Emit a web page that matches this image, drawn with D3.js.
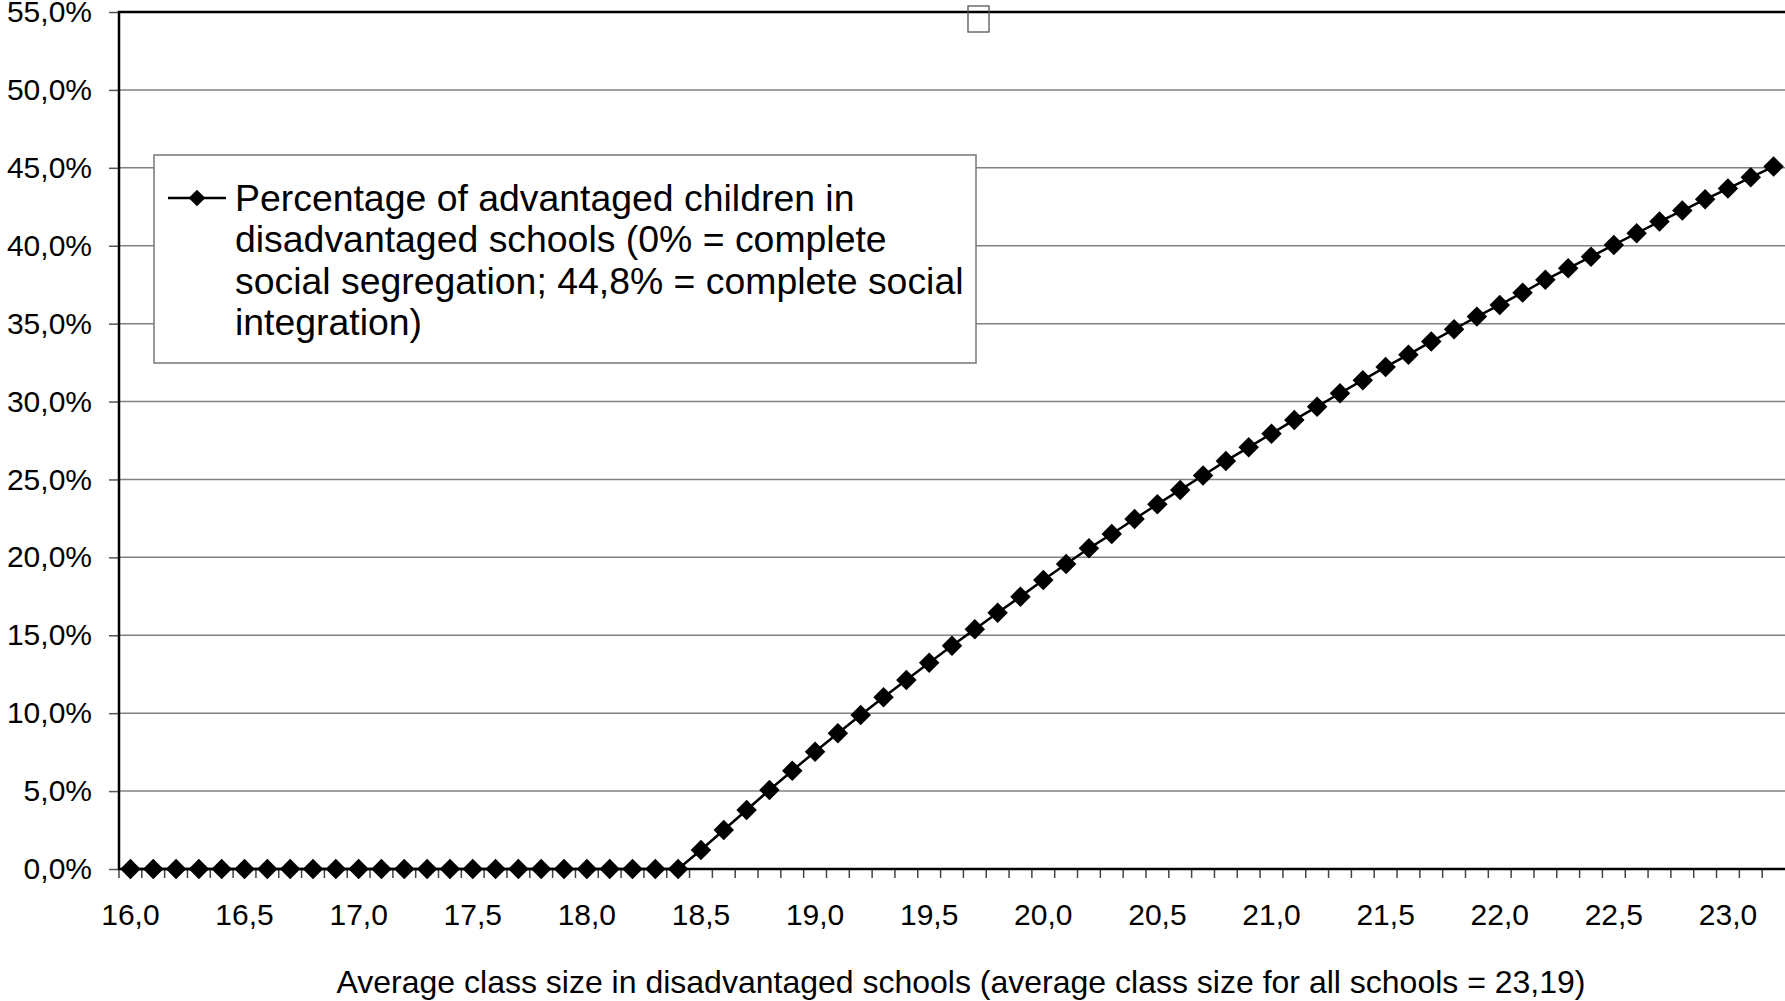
<!DOCTYPE html>
<html>
<head>
<meta charset="utf-8">
<script src="https://cdn.jsdelivr.net/npm/d3@7"></script>
<style>
  body { margin: 0; background: #fff; }
  svg { display: block; font-family: "Liberation Sans", Arial, sans-serif; }
</style>
</head>
<body>
<script>
// categories on the x axis (average class size in disadvantaged schools)
var categories = ['16,0','16,1','16,2','16,3','16,4','16,5','16,6','16,7','16,8','16,9',
  '17,0','17,1','17,2','17,3','17,4','17,5','17,6','17,7','17,8','17,9',
  '18,0','18,1','18,2','18,3','18,4','18,5','18,6','18,7','18,8','18,9',
  '19,0','19,1','19,2','19,3','19,4','19,5','19,6','19,7','19,8','19,9',
  '20,0','20,1','20,2','20,3','20,4','20,5','20,6','20,7','20,8','20,9',
  '21,0','21,1','21,2','21,3','21,4','21,5','21,6','21,7','21,8','21,9',
  '22,0','22,1','22,2','22,3','22,4','22,5','22,6','22,7','22,8','22,9',
  '23,0','23,1','23,2'];
// percentage of advantaged children in disadvantaged schools
var values = [0,0,0,0,0,0,0,0,0,0,
  0,0,0,0,0,0,0,0,0,0,
  0,0,0,0,0,1.22,2.50,3.79,5.07,6.31,
  7.53,8.71,9.88,11.02,12.13,13.24,14.33,15.38,16.45,17.48,
  18.55,19.58,20.58,21.50,22.46,23.41,24.33,25.25,26.19,27.06,
  27.94,28.82,29.67,30.53,31.37,32.22,33.01,33.85,34.64,35.45,
  36.20,36.99,37.81,38.55,39.30,40.05,40.80,41.55,42.26,42.98,
  43.67,44.39,45.08];
var xLabels = ['16,0','16,5','17,0','17,5','18,0','18,5','19,0','19,5','20,0','20,5',
  '21,0','21,5','22,0','22,5','23,0'];
var yTicks = [0, 5, 10, 15, 20, 25, 30, 35, 40, 45, 50, 55];
var legendLines = ['Percentage of advantaged children in',
  'disadvantaged schools (0% = complete',
  'social segregation; 44,8% = complete social',
  'integration)'];
var xTitle = 'Average class size in disadvantaged schools (average class size for all schools = 23,19)';

var W = 1785, H = 1001;
var mLeft = 119, mTop = 12, mRight = 1785, mBottom = 869;

var svg = d3.select('body').append('svg').attr('width', W).attr('height', H);

var x = d3.scaleBand().domain(categories).range([mLeft, mRight]).padding(0);
var y = d3.scaleLinear().domain([0, 55]).range([mBottom, mTop]);

// gridlines
svg.append('g').selectAll('line').data(yTicks.slice(1)).join('line')
  .attr('x1', mLeft).attr('x2', mRight)
  .attr('y1', d => y(d)).attr('y2', d => y(d))
  .attr('stroke', '#808080').attr('stroke-width', 1.5);

// y axis
var fmt = d => d.toFixed(1).replace('.', ',') + '%';
var yAxis = svg.append('g').attr('transform', 'translate(' + mLeft + ',0)')
  .call(d3.axisLeft(y).tickValues(yTicks).tickFormat(fmt).tickSize(10).tickPadding(17));
yAxis.select('.domain').remove();
yAxis.selectAll('line').attr('stroke', '#555').attr('stroke-width', 1.5);
yAxis.selectAll('text').attr('font-size', 30).attr('fill', '#000')
  .attr('font-family', '"Liberation Sans", Arial, sans-serif');

// x tick marks at category boundaries
svg.append('g').selectAll('line').data(categories).join('line')
  .attr('x1', d => x(d)).attr('x2', d => x(d))
  .attr('y1', mBottom).attr('y2', mBottom + 9)
  .attr('stroke', '#444').attr('stroke-width', 1.5);

// x labels
var xAxis = svg.append('g').attr('transform', 'translate(0,' + mBottom + ')')
  .call(d3.axisBottom(x).tickValues(xLabels).tickSize(0).tickPadding(35));
xAxis.select('.domain').remove();
xAxis.selectAll('text').attr('font-size', 30).attr('fill', '#000')
  .attr('font-family', '"Liberation Sans", Arial, sans-serif');

// plot border
svg.append('rect').attr('x', mLeft).attr('y', mTop)
  .attr('width', mRight - mLeft + 10).attr('height', mBottom - mTop)
  .attr('fill', 'none').attr('stroke', '#000').attr('stroke-width', 2.5);

// series line
var cx = d => x(d) + x.bandwidth() / 2;
var line = d3.line().x((d, i) => cx(categories[i])).y(d => y(d));
svg.append('path').datum(values).attr('d', line)
  .attr('fill', 'none').attr('stroke', '#000').attr('stroke-width', 2.5);

var diamond = d3.symbol(d3.symbolSquare).size(210);
svg.append('g').selectAll('path').data(values).join('path')
  .attr('d', diamond)
  .attr('transform', (d, i) => 'translate(' + cx(categories[i]) + ',' + y(d) + ') rotate(45)')
  .attr('fill', '#000');

// small empty box at top
svg.append('rect').attr('x', 968).attr('y', 6).attr('width', 21).attr('height', 26)
  .attr('fill', 'none').attr('stroke', '#555').attr('stroke-width', 1.3);

// legend
var lg = svg.append('g');
lg.append('rect').attr('x', 154).attr('y', 155).attr('width', 822).attr('height', 208)
  .attr('fill', '#fff').attr('stroke', '#777').attr('stroke-width', 1.5);
lg.append('line').attr('x1', 168).attr('x2', 226).attr('y1', 198).attr('y2', 198)
  .attr('stroke', '#000').attr('stroke-width', 2.5);
lg.append('path').attr('d', d3.symbol(d3.symbolSquare).size(140))
  .attr('transform', 'translate(197,198) rotate(45)').attr('fill', '#000');
lg.selectAll('text').data(legendLines).join('text')
  .attr('x', 235).attr('y', (d, i) => 211 + i * 41.3)
  .attr('font-size', 37.4).attr('fill', '#000')
  .text(d => d);

// x axis title
svg.append('text').attr('x', 961).attr('y', 993).attr('text-anchor', 'middle')
  .attr('font-size', 32).attr('fill', '#000').text(xTitle);
</script>
</body>
</html>
